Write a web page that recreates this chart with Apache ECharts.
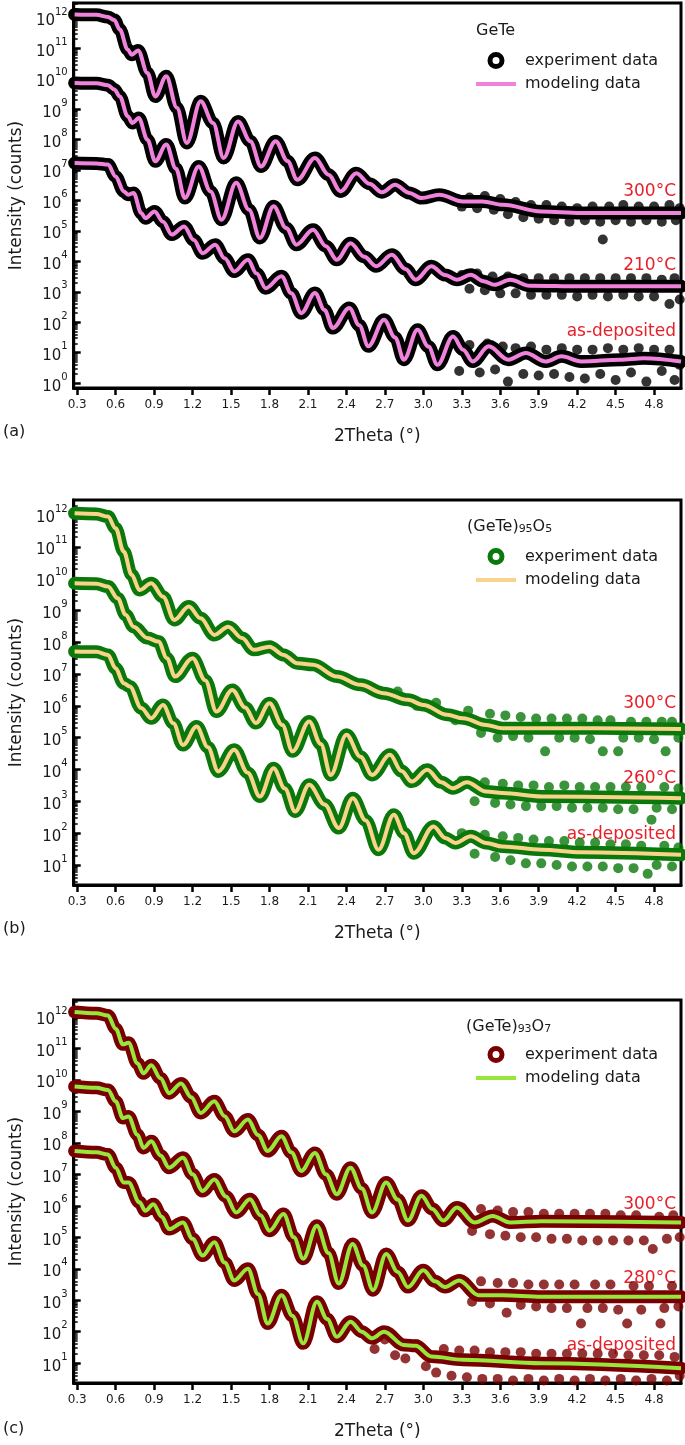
<!DOCTYPE html>
<html><head><meta charset="utf-8">
<script src="https://cdn.jsdelivr.net/npm/echarts/dist/echarts.min.js"></script>
<style>
html,body{margin:0;padding:0;background:#fff;width:685px;height:1445px;overflow:hidden}
.p{position:absolute;left:0;width:685px}
</style></head>
<body>
<div id="pa" class="p" style="top:0;height:497px"></div>
<div id="pb" class="p" style="top:497px;height:500px"></div>
<div id="pc" class="p" style="top:997px;height:448px"></div>
<script>
// ---- tick labels ----
const xTicks = [0.3,0.6,0.9,1.2,1.5,1.8,2.1,2.4,2.7,3.0,3.3,3.6,3.9,4.2,4.5,4.8];
const yDecades = [0,1,2,3,4,5,6,7,8,9,10,11,12];

// ---- data: [2Theta (deg), log10(Intensity counts)] ----
// Panel (a) GeTe — modeling curves
const a300 = [[0.28,12.11],[0.45,12.1],[0.54,12.03],[0.59,11.93],[0.632,11.62],[0.694,10.96],[0.725,10.79],[0.775,10.93],[0.848,10.19],[0.909,9.42],[0.995,10.08],[1.078,9.05],[1.155,7.89],[1.263,9.26],[1.36,8.55],[1.442,7.40],[1.555,8.60],[1.65,7.95],[1.734,7.12],[1.848,7.95],[1.94,7.3],[2.017,6.68],[2.155,7.40],[2.26,6.85],[2.355,6.30],[2.478,6.90],[2.58,6.55],[2.678,6.27],[2.78,6.52],[2.89,6.25],[2.986,6.08],[3.125,6.19],[3.31,5.97],[3.46,5.97],[3.62,5.86],[3.92,5.64],[4.23,5.59],[5.01,5.59]];
const a210 = [[0.28,9.86],[0.45,9.85],[0.54,9.79],[0.59,9.65],[0.632,9.42],[0.694,8.77],[0.731,8.55],[0.78,8.71],[0.848,8.0],[0.909,7.29],[0.995,7.84],[1.07,7.05],[1.14,6.08],[1.248,7.12],[1.34,6.3],[1.426,5.37],[1.54,6.58],[1.64,5.7],[1.725,4.77],[1.832,5.81],[1.93,5.1],[2.01,4.55],[2.14,5.04],[2.24,4.5],[2.325,4.05],[2.432,4.60],[2.54,4.15],[2.632,3.84],[2.755,4.22],[2.86,3.75],[2.94,3.40],[3.063,3.84],[3.17,3.55],[3.263,3.40],[3.37,3.56],[3.47,3.35],[3.555,3.23],[3.678,3.40],[3.83,3.20],[4.23,3.18],[5.01,3.18]];
const aDep = [[0.28,7.23],[0.45,7.22],[0.54,7.18],[0.60,6.79],[0.663,6.30],[0.70,6.19],[0.74,6.25],[0.80,5.59],[0.832,5.42],[0.903,5.64],[0.97,5.3],[1.038,4.88],[1.134,5.15],[1.21,4.7],[1.278,4.27],[1.377,4.55],[1.45,4.1],[1.525,3.67],[1.632,4.05],[1.70,3.6],[1.77,3.12],[1.894,3.51],[1.97,2.95],[2.048,2.30],[2.155,2.96],[2.23,2.4],[2.294,1.81],[2.423,2.47],[2.50,1.9],[2.571,1.21],[2.694,2.08],[2.78,1.5],[2.848,0.77],[2.955,1.75],[3.04,1.2],[3.11,0.60],[3.232,1.53],[3.31,1.1],[3.386,0.71],[3.51,1.21],[3.663,0.77],[3.80,0.99],[3.955,0.71],[4.078,0.88],[4.232,0.71],[4.54,0.77],[4.72,0.82],[5.01,0.71]];
// Panel (a) scattered experiment points in the noisy tails
const a300n = [[3.3,5.8],[3.36,6.1],[3.42,5.75],[3.48,6.15],[3.55,5.7],[3.6,6.05],[3.66,5.55],[3.72,5.95],[3.78,5.45],[3.84,5.85],[3.9,5.4],[3.96,5.85],[4.02,5.35],[4.08,5.8],[4.14,5.3],[4.2,5.75],[4.26,5.35],[4.32,5.8],[4.38,5.3],[4.4,4.72],[4.45,5.8],[4.5,5.35],[4.56,5.85],[4.62,5.3],[4.68,5.8],[4.74,5.35],[4.8,5.8],[4.86,5.3],[4.92,5.85],[4.97,5.35],[5.0,5.75]];
const a210n = [[3.3,3.55],[3.36,3.1],[3.42,3.6],[3.48,3.05],[3.54,3.5],[3.6,2.95],[3.66,3.5],[3.72,2.95],[3.78,3.45],[3.84,2.9],[3.9,3.45],[3.96,2.9],[4.02,3.45],[4.08,2.9],[4.14,3.45],[4.2,2.85],[4.26,3.45],[4.32,2.9],[4.38,3.45],[4.44,2.85],[4.5,3.45],[4.56,2.9],[4.62,3.45],[4.68,2.85],[4.74,3.45],[4.8,2.85],[4.86,3.4],[4.92,2.6],[4.96,3.45],[5.0,2.75]];
const aDepn = [[3.2,1.3],[3.28,0.4],[3.36,1.25],[3.44,0.35],[3.5,1.3],[3.56,0.45],[3.62,1.2],[3.66,0.05],[3.72,1.15],[3.78,0.3],[3.84,1.2],[3.9,0.25],[3.96,1.1],[4.02,0.3],[4.08,1.15],[4.14,0.2],[4.2,1.1],[4.26,0.15],[4.32,1.1],[4.38,0.3],[4.44,1.15],[4.5,0.1],[4.56,1.1],[4.62,0.35],[4.68,1.15],[4.74,0.05],[4.8,1.1],[4.86,0.4],[4.92,1.1],[4.96,0.1],[5.0,0.6]];

// Panel (b) (GeTe)95O5
const b300 = [[0.28,12.05],[0.45,12.03],[0.54,11.95],[0.60,11.58],[0.663,10.85],[0.725,10.12],[0.786,9.64],[0.878,9.85],[0.97,9.43],[1.057,8.70],[1.171,9.12],[1.263,8.75],[1.37,8.23],[1.478,8.49],[1.586,8.13],[1.678,7.76],[1.80,7.86],[1.91,7.60],[2.017,7.34],[2.14,7.29],[2.325,6.92],[2.51,6.66],[2.69,6.40],[2.88,6.19],[3.0,6.03],[3.186,5.72],[3.31,5.61],[3.49,5.40],[3.617,5.30],[3.92,5.30],[5.01,5.27]];
const b260 = [[0.28,9.85],[0.45,9.84],[0.54,9.75],[0.617,9.38],[0.678,8.86],[0.74,8.49],[0.848,8.13],[0.934,8.02],[1.0,7.5],[1.063,6.92],[1.20,7.50],[1.30,6.8],[1.386,5.82],[1.51,6.50],[1.61,5.95],[1.694,5.46],[1.80,6.08],[1.90,5.4],[1.98,4.57],[2.11,5.51],[2.20,4.8],[2.278,3.83],[2.40,5.09],[2.51,4.4],[2.60,3.83],[2.74,4.46],[2.83,3.95],[2.91,3.62],[3.03,3.99],[3.14,3.6],[3.23,3.41],[3.34,3.60],[3.49,3.31],[3.617,3.26],[3.925,3.15],[5.01,3.10]];
const bDep = [[0.28,7.71],[0.45,7.70],[0.54,7.60],[0.60,7.18],[0.663,6.71],[0.71,6.61],[0.80,5.93],[0.878,5.61],[0.97,6.03],[1.05,5.45],[1.125,4.77],[1.232,5.35],[1.32,4.7],[1.40,3.94],[1.525,4.62],[1.63,3.9],[1.725,3.15],[1.832,4.04],[1.92,3.4],[2.0,2.68],[2.11,3.52],[2.23,2.9],[2.34,2.16],[2.45,3.10],[2.55,2.4],[2.65,1.48],[2.77,2.58],[2.85,2.0],[2.925,1.37],[3.08,2.21],[3.17,1.85],[3.25,1.69],[3.37,1.90],[3.49,1.69],[3.617,1.58],[3.925,1.48],[4.23,1.40],[5.01,1.32]];
const b300n = [[2.8,6.45],[2.95,6.0],[3.1,6.1],[3.25,5.55],[3.35,5.85],[3.45,5.15],[3.52,5.75],[3.58,5.0],[3.64,5.7],[3.7,5.05],[3.76,5.65],[3.82,5.0],[3.88,5.6],[3.95,4.57],[4.0,5.6],[4.06,5.0],[4.12,5.6],[4.18,5.0],[4.24,5.6],[4.3,4.95],[4.36,5.55],[4.4,4.57],[4.46,5.55],[4.52,4.57],[4.56,5.0],[4.62,5.5],[4.68,5.0],[4.74,5.5],[4.8,4.95],[4.86,5.5],[4.89,4.57],[4.94,5.5],[4.99,5.0]];
const b260n = [[3.3,3.65],[3.4,3.0],[3.48,3.6],[3.56,2.95],[3.62,3.55],[3.68,2.9],[3.74,3.5],[3.8,2.85],[3.86,3.5],[3.92,2.85],[3.98,3.45],[4.04,2.85],[4.1,3.5],[4.16,2.8],[4.22,3.45],[4.28,2.8],[4.34,3.45],[4.4,2.8],[4.46,3.45],[4.52,2.75],[4.58,3.45],[4.64,2.75],[4.7,3.45],[4.78,2.42],[4.82,2.8],[4.88,3.45],[4.94,2.75],[4.99,3.4]];
const bDepn = [[3.3,2.0],[3.4,1.35],[3.48,1.95],[3.56,1.25],[3.62,1.9],[3.68,1.15],[3.74,1.85],[3.8,1.05],[3.86,1.8],[3.92,1.05],[3.98,1.75],[4.04,1.0],[4.1,1.75],[4.16,0.95],[4.22,1.7],[4.28,0.95],[4.34,1.7],[4.4,0.95],[4.46,1.65],[4.52,0.9],[4.58,1.65],[4.64,0.9],[4.7,1.6],[4.75,0.72],[4.82,1.0],[4.88,1.6],[4.94,0.95],[4.99,1.55]];

// Panel (c) (GeTe)93O7
const c300 = [[0.28,12.16],[0.45,12.12],[0.54,12.05],[0.60,11.63],[0.657,11.13],[0.70,11.18],[0.77,10.53],[0.817,10.21],[0.878,10.47],[0.95,10.05],[1.017,9.58],[1.11,9.89],[1.19,9.45],[1.263,8.95],[1.37,9.32],[1.45,8.85],[1.525,8.37],[1.632,8.74],[1.71,8.25],[1.786,7.74],[1.894,8.21],[1.97,7.7],[2.048,7.11],[2.155,7.68],[2.24,7.0],[2.325,6.37],[2.432,7.21],[2.52,6.55],[2.60,5.79],[2.71,6.74],[2.80,6.2],[2.88,5.53],[2.986,6.32],[3.07,5.9],[3.155,5.53],[3.263,5.95],[3.40,5.47],[3.54,5.68],[3.678,5.47],[3.925,5.51],[5.01,5.47]];
const c280 = [[0.28,9.79],[0.45,9.75],[0.54,9.68],[0.60,9.32],[0.657,8.79],[0.70,8.84],[0.77,8.26],[0.817,7.84],[0.878,8.05],[0.95,7.6],[1.017,7.21],[1.125,7.53],[1.20,7.0],[1.278,6.47],[1.37,6.84],[1.46,6.3],[1.54,5.79],[1.648,6.21],[1.73,5.7],[1.80,5.21],[1.91,5.74],[1.99,5.0],[2.063,4.32],[2.17,5.37],[2.26,4.5],[2.34,3.53],[2.448,4.79],[2.53,4.1],[2.608,3.32],[2.71,4.47],[2.80,3.9],[2.88,3.42],[3.0,3.95],[3.09,3.6],[3.17,3.42],[3.28,3.63],[3.43,3.16],[3.617,3.16],[3.925,3.11],[5.01,3.11]];
const cDep = [[0.28,7.74],[0.45,7.70],[0.54,7.63],[0.60,7.21],[0.663,6.74],[0.70,6.74],[0.786,6.11],[0.832,5.84],[0.894,6.05],[0.96,5.65],[1.017,5.26],[1.125,5.47],[1.20,4.95],[1.278,4.42],[1.37,4.84],[1.45,4.2],[1.525,3.63],[1.632,4.0],[1.71,3.2],[1.786,2.26],[1.894,3.16],[1.98,2.5],[2.063,1.63],[2.17,2.95],[2.25,2.4],[2.325,1.84],[2.432,2.32],[2.52,2.0],[2.60,1.79],[2.694,2.0],[2.848,1.58],[2.94,1.55],[3.063,1.21],[3.31,1.11],[3.925,1.0],[5.01,0.84]];
const c300n = [[3.3,5.95],[3.38,5.2],[3.45,5.9],[3.52,5.1],[3.58,5.85],[3.64,5.05],[3.7,5.8],[3.76,5.0],[3.82,5.8],[3.88,5.0],[3.94,5.75],[4.0,4.95],[4.06,5.75],[4.12,4.95],[4.18,5.75],[4.24,4.9],[4.3,5.75],[4.36,4.9],[4.42,5.75],[4.48,4.9],[4.54,5.7],[4.6,4.9],[4.66,5.7],[4.72,4.9],[4.79,4.63],[4.84,5.65],[4.9,4.95],[4.95,5.7],[5.0,5.0]];
const c280n = [[3.3,3.65],[3.38,2.95],[3.45,3.6],[3.52,2.9],[3.58,3.55],[3.65,2.6],[3.7,3.55],[3.76,2.85],[3.82,3.5],[3.88,2.8],[3.94,3.5],[4.0,2.75],[4.06,3.5],[4.12,2.75],[4.18,3.5],[4.23,2.26],[4.28,2.75],[4.34,3.5],[4.4,2.75],[4.46,3.5],[4.52,2.7],[4.59,2.26],[4.64,3.45],[4.7,2.7],[4.76,3.45],[4.85,2.26],[4.88,2.75],[4.94,3.45],[4.99,2.8]];
const cDepn = [[2.62,1.45],[2.7,1.75],[2.78,1.25],[2.86,1.15],[2.95,1.6],[3.02,0.9],[3.1,0.7],[3.16,1.45],[3.22,0.6],[3.28,1.4],[3.34,0.55],[3.4,1.4],[3.46,0.5],[3.52,1.35],[3.58,0.5],[3.64,1.35],[3.7,0.45],[3.76,1.35],[3.82,0.5],[3.88,1.3],[3.94,0.45],[4.0,1.3],[4.06,0.5],[4.12,1.3],[4.18,0.45],[4.24,1.3],[4.3,0.5],[4.36,1.3],[4.42,0.45],[4.48,1.3],[4.54,0.5],[4.6,1.25],[4.66,0.45],[4.72,1.25],[4.78,0.5],[4.84,1.25],[4.9,0.45],[4.96,1.2],[5.0,0.6]];

const F = '"DejaVu Sans", "Liberation Sans", sans-serif';
const TXT = '#1a1a1a';
const RED = '#e8202a';

function toPts(arr){ return arr.map(p => [p[0], Math.pow(10, p[1])]); }

function buildPanel(elId, cfg){
  const chart = echarts.init(document.getElementById(elId), null, {renderer:'canvas'});
  const majors = yDecades.map(d => Math.pow(10, d));
  const minors = [];
  yDecades.forEach(d => { for (let k = 2; k <= 9; k++) minors.push(k * Math.pow(10, d)); });
  const ymin = Math.pow(10, cfg.ylo), ymax = Math.pow(10, cfg.yhi);
  const series = [];
  cfg.curves.forEach(c => {
    series.push({type:'line', name:'experiment data', data: toPts(c.model), smooth:0.35, smoothMonotone:'x', symbol:'none',
      lineStyle:{width:13, color:cfg.exp, cap:'round', join:'round'}, z:1, silent:true});
    series.push({type:'scatter', name:'experiment data', data: toPts(c.noise), symbolSize:10,
      itemStyle:{color:cfg.exp}, z:1, silent:true});
  });
  cfg.curves.forEach(c => {
    series.push({type:'line', name:'modeling data', data: toPts(c.model), smooth:0.35, smoothMonotone:'x', symbol:'none',
      lineStyle:{width:4, color:cfg.mod}, z:3, silent:true});
  });
  const graphic = [{type:'text', left:3, top:cfg.tagTop, style:{text:cfg.tag, fontSize:16, fontFamily:F, fill:TXT}}];
  cfg.curves.forEach(c => {
    graphic.push({type:'text', right:9, top:c.labelTop, style:{text:c.label, fontSize:17, fontFamily:F, fill:RED}});
  });
  chart.setOption({
    animation:false,
    backgroundColor:'#fff',
    grid:{left:60, right:4, top:3, height:385, show:true, borderColor:'#000', borderWidth:3},
    title:{text:cfg.title, left:cfg.titleLeft, top:cfg.titleTop, padding:0,
      textStyle:{fontWeight:'normal', rich:{
        n:{fontSize:16, fontFamily:F, color:TXT, fontWeight:'normal', lineHeight:24, verticalAlign:'bottom'},
        sub:{fontSize:11, fontFamily:F, color:TXT, fontWeight:'normal', lineHeight:3, verticalAlign:'bottom'}}}},
    legend:{left:476, top:cfg.legendTop, orient:'vertical', itemWidth:40, itemHeight:12, itemGap:7,
      selectedMode:false, padding:0,
      textStyle:{fontSize:16, fontFamily:F, color:TXT, padding:[0,0,0,4]},
      data:[
        {name:'experiment data', icon:'circle', itemStyle:{color:'#fff', borderColor:cfg.exp, borderWidth:5}},
        {name:'modeling data', icon:'path://M0,0 L40,0 L40,4 L0,4 Z', itemStyle:{color:cfg.mod, borderWidth:0}}
      ]},
    xAxis:{type:'value', min:0.273, max:5.01, position:'bottom',
      axisLine:{show:true, onZero:false, lineStyle:{color:'#000', width:3}},
      axisTick:{show:true, inside:false, length:7, customValues:xTicks, lineStyle:{color:'#000', width:2.5}},
      axisLabel:{customValues:xTicks, formatter:v => v.toFixed(1), fontSize:12, fontFamily:F, color:TXT, margin:11},
      splitLine:{show:false},
      name:'2Theta (°)', nameLocation:'middle', nameGap:40,
      nameTextStyle:{fontSize:17, fontFamily:F, color:TXT}},
    yAxis:[
      {type:'log', logBase:10, min:ymin, max:ymax,
        axisLine:{show:true, lineStyle:{color:'#000', width:3}},
        axisTick:{show:true, inside:true, length:7, customValues:majors, lineStyle:{color:'#000', width:2.5}},
        axisLabel:{customValues:majors, margin:6,
          formatter:v => '{b|10}{s|' + Math.round(Math.log10(v)) + '}',
          rich:{b:{fontSize:15, fontFamily:F, color:TXT, lineHeight:22, verticalAlign:'bottom'},
                s:{fontSize:10, fontFamily:F, color:TXT, lineHeight:10, verticalAlign:'top'}}},
        splitLine:{show:false},
        name:'Intensity (counts)', nameLocation:'middle', nameGap:45,
        nameTextStyle:{fontSize:17, fontFamily:F, color:TXT}},
      {type:'log', logBase:10, min:ymin, max:ymax, position:'left',
        axisLine:{show:false},
        axisTick:{show:true, inside:true, length:4, customValues:minors, lineStyle:{color:'#000', width:1.5}},
        axisLabel:{show:false}, splitLine:{show:false}}
    ],
    graphic:graphic,
    series:series
  });
}

buildPanel('pa', {
  tag:'(a)', tagTop:424, title:'{n|GeTe}', titleLeft:476, titleTop:15, legendTop:52,
  exp:'#000000', mod:'#f082dc', ylo:-0.16, yhi:12.49,
  curves:[
    {model:a300, noise:a300n, label:'300°C', labelTop:183},
    {model:a210, noise:a210n, label:'210°C', labelTop:257},
    {model:aDep, noise:aDepn, label:'as-deposited', labelTop:323}
  ]
});
buildPanel('pb', {
  tag:'(b)', tagTop:424, title:'{n|(GeTe)}{sub|95}{n|O}{sub|5}', titleLeft:467, titleTop:14, legendTop:51,
  exp:'#0a780a', mod:'#f9d38c', ylo:0.37, yhi:12.47,
  curves:[
    {model:b300, noise:b300n, label:'300°C', labelTop:198},
    {model:b260, noise:b260n, label:'260°C', labelTop:273},
    {model:bDep, noise:bDepn, label:'as-deposited', labelTop:329}
  ]
});
buildPanel('pc', {
  tag:'(c)', tagTop:424, title:'{n|(GeTe)}{sub|93}{n|O}{sub|7}', titleLeft:466, titleTop:14, legendTop:49,
  exp:'#780000', mod:'#96e63c', ylo:0.37, yhi:12.54,
  curves:[
    {model:c300, noise:c300n, label:'300°C', labelTop:199},
    {model:c280, noise:c280n, label:'280°C', labelTop:273},
    {model:cDep, noise:cDepn, label:'as-deposited', labelTop:340}
  ]
});
</script>
</body></html>
